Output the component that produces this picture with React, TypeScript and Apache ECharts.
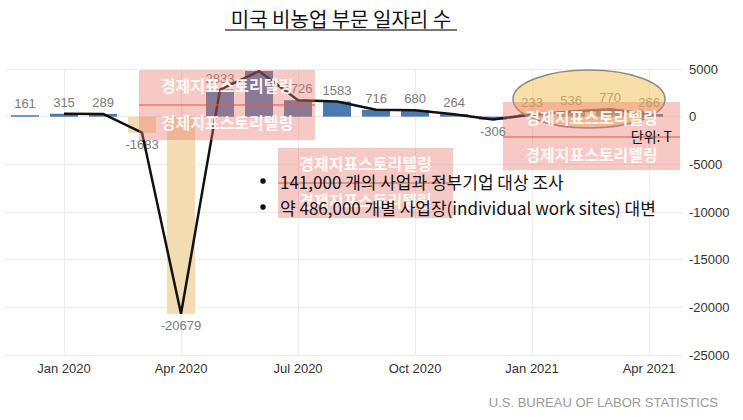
import React, { useEffect, useRef } from "react";
import * as echarts from "echarts";

const months = [
  "Dec 2019", "Jan 2020", "Feb 2020", "Mar 2020", "Apr 2020", "May 2020", "Jun 2020",
  "Jul 2020", "Aug 2020", "Sep 2020", "Oct 2020", "Nov 2020", "Dec 2020",
  "Jan 2021", "Feb 2021", "Mar 2021", "Apr 2021",
];
const jobChanges = [161, 315, 289, -1683, -20679, 2833, 4781, 1726, 1583, 716, 680, 264, -306, 233, 536, 770, 266];
const trendMonths = months.slice(1);
const highlightedMonths = ["Mar 2020", "Apr 2020"];
const hiddenLabelMonths = ["Jun 2020"];
const quarterLabels = ["Jan 2020", "Apr 2020", "Jul 2020", "Oct 2020", "Jan 2021", "Apr 2021"];
const yMin = -25000;
const yMax = 5000;
const yStep = 5000;

const TITLE = "미국 비농업 부문 일자리 수";
const BULLETS = ["141,000 개의 사업과 정부기업 대상 조사", "약 486,000 개별 사업장(individual work sites) 대변"];
const WATERMARK = "경제지표스토리텔링";
const UNIT = "단위: T";
const SOURCE = "U.S. BUREAU OF LABOR STATISTICS";

const KR = '"Noto Sans CJK KR", "Noto Sans", sans-serif';
const LAT = '"Liberation Sans", Arial, sans-serif';

function watermark(x: number, y: number, w: number, h: number) {
  return [
    { type: "rect", z: 200, shape: { x, y, width: w, height: h }, style: { fill: "rgba(235,120,110,0.4)" } },
    { type: "line", z: 201, shape: { x1: x, y1: y + 35, x2: x + w, y2: y + 35 }, style: { stroke: "rgba(225,90,80,0.55)", lineWidth: 2 } },
    { type: "text", z: 202, style: { text: WATERMARK, x: x + w / 2, y: y + 15, align: "center", verticalAlign: "middle", fill: "rgba(255,255,255,0.92)", fontSize: 16, fontWeight: "bold", fontFamily: KR } },
    { type: "text", z: 202, style: { text: WATERMARK, x: x + w / 2, y: y + 52, align: "center", verticalAlign: "middle", fill: "rgba(255,255,255,0.92)", fontSize: 16, fontWeight: "bold", fontFamily: KR } },
  ];
}

export default function App() {
  const ref = useRef<HTMLDivElement>(null);
  useEffect(() => {
    if (!ref.current) return;
    const chart = echarts.init(ref.current, null, { renderer: "svg" });
    const tickIdx = quarterLabels.map((q) => months.indexOf(q));
    const barData = months.map((m, i) => {
      const v = jobChanges[i];
      return {
        value: [i, v],
        itemStyle: { color: highlightedMonths.includes(m) ? "#f3dcb2" : "#4a7ab0" },
        label: { show: !hiddenLabelMonths.includes(m), position: v < 0 ? "bottom" : "top" },
      };
    });
    const lineData = trendMonths.map((m, j) => {
      const i = months.indexOf(m);
      const item: any = { value: [i, jobChanges[i]] };
      if (j === trendMonths.length - 1) {
        item.symbol = "arrow";
        item.symbolSize = [9, 10];
        item.symbolRotate = -90;
        item.itemStyle = { color: "#111" };
      }
      return item;
    });
    chart.setOption({
      animation: false,
      grid: { left: 5.5, top: 69, width: 677.5, height: 286, containLabel: false },
      xAxis: {
        type: "value",
        min: -0.5,
        max: 16.87,
        axisLine: { show: false },
        axisTick: { show: false, customValues: tickIdx },
        axisLabel: {
          customValues: tickIdx,
          formatter: (v: number) => months[Math.round(v)] || "",
          color: "#333",
          fontSize: 13,
          fontFamily: LAT,
          margin: 7,
        },
        splitLine: { show: true, lineStyle: { color: "#ececec" } },
      },
      yAxis: {
        type: "value",
        position: "right",
        min: yMin,
        max: yMax,
        interval: yStep,
        axisLine: { show: false },
        axisTick: { show: false },
        axisLabel: { color: "#333", fontSize: 13, fontFamily: LAT, margin: 6, align: "left", formatter: (v: number) => String(v) },
        splitLine: { lineStyle: { color: "#ececec" } },
      },
      series: [
        {
          type: "bar",
          data: barData,
          barWidth: 28,
          label: {
            show: true,
            color: "#7a7a7a",
            fontSize: 13,
            fontFamily: LAT,
            distance: 5,
            formatter: (p: any) => String(p.value[1]),
          },
        },
        {
          type: "line",
          data: lineData,
          symbol: "none",
          lineStyle: { color: "#111", width: 2.5 },
          z: 5,
        },
      ],
      graphic: [
        { type: "text", z: 300, style: { text: TITLE, x: 341, y: 18, align: "center", verticalAlign: "middle", fill: "#111", fontSize: 20, fontFamily: KR } },
        { type: "line", z: 300, shape: { x1: 225, y1: 30, x2: 457, y2: 30 }, style: { stroke: "#777", lineWidth: 2 } },
        { type: "ellipse", z: 150, shape: { cx: 589, cy: 99, rx: 76, ry: 29 }, style: { fill: "rgba(242,196,95,0.55)", stroke: "#8a8a8a", lineWidth: 1.5 } },
        ...watermark(139, 70, 176, 70),
        ...watermark(278, 148, 175, 70),
        ...watermark(503, 102, 177, 68),
        { type: "circle", z: 300, shape: { cx: 263, cy: 181, r: 2.8 }, style: { fill: "#111" } },
        { type: "circle", z: 300, shape: { cx: 263, cy: 207, r: 2.8 }, style: { fill: "#111" } },
        { type: "text", z: 300, style: { text: BULLETS[0], x: 280, y: 181, verticalAlign: "middle", fill: "#111", fontSize: 17, fontFamily: KR } },
        { type: "text", z: 300, style: { text: BULLETS[1], x: 280, y: 207, verticalAlign: "middle", fill: "#111", fontSize: 17, fontFamily: KR } },
        { type: "text", z: 300, style: { text: UNIT, x: 672, y: 136, align: "right", verticalAlign: "middle", fill: "#111", fontSize: 14, fontFamily: KR } },
        { type: "text", z: 300, style: { text: SOURCE, x: 718, y: 402, align: "right", verticalAlign: "middle", fill: "#999", fontSize: 13, fontFamily: LAT } },
      ],
    });
    return () => chart.dispose();
  }, []);
  return <div ref={ref} style={{ position: "fixed", left: 0, top: 0, width: 743, height: 420, background: "#fff" }} />;
}
